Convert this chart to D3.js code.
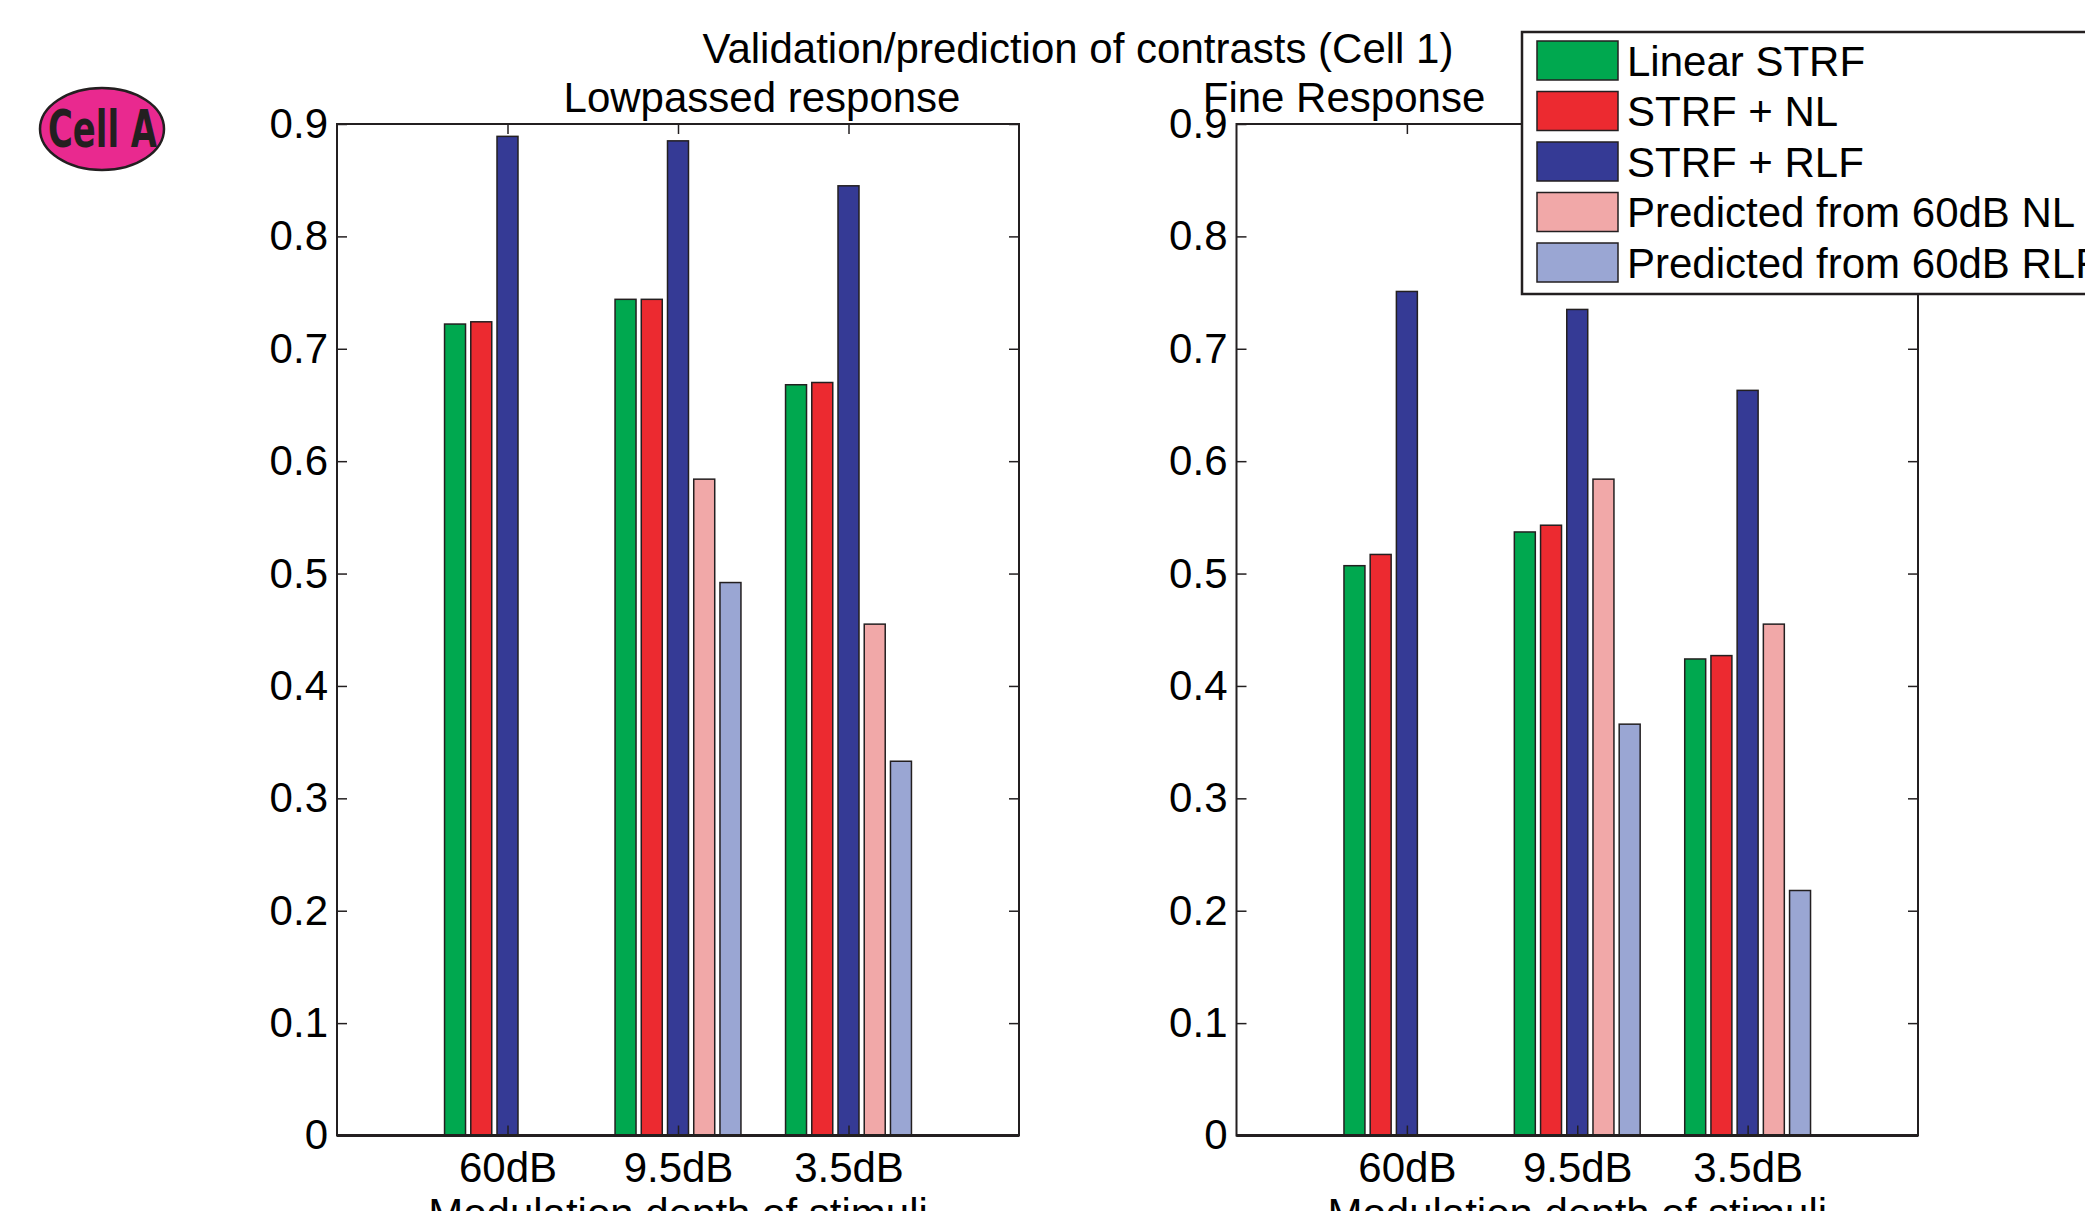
<!DOCTYPE html>
<html lang="en">
<head>
<meta charset="UTF-8">
<title>Validation/prediction of contrasts (Cell 1)</title>
<script src="https://d3js.org/d3.v7.min.js"></script>
<style>
    body { margin: 0; background: #fff; }
    svg text { font-family: "Liberation Sans", Arial, Helvetica, sans-serif; fill: #000; }
    .tick line { stroke: #231f20; stroke-width: 1.5; }
    .tick text { font-size: 42px; }
    .ttl { font-size: 42px; }
    .leg { font-size: 42px; }
</style>
</head>
<body>
<svg id="chart" width="2085" height="1211"></svg>
<script>
    // categories (x groups) and legend names
    const groups = ["60dB", "9.5dB", "3.5dB"];
    const seriesNames = ["Linear STRF", "STRF + NL", "STRF + RLF", "Predicted from 60dB NL", "Predicted from 60dB RLF"];
    const yTicks = [0, 0.1, 0.2, 0.3, 0.4, 0.5, 0.6, 0.7, 0.8, 0.9];

    // Lowpassed response
    const lowLinear  = [0.722, 0.744, 0.668];
    const lowNL      = [0.724, 0.744, 0.670];
    const lowRLF     = [0.889, 0.885, 0.845];
    const lowPredNL  = [null, 0.584, 0.455];
    const lowPredRLF = [null, 0.492, 0.333];

    // Fine response
    const fineLinear  = [0.507, 0.537, 0.424];
    const fineNL      = [0.517, 0.543, 0.427];
    const fineRLF     = [0.751, 0.735, 0.663];
    const finePredNL  = [null, 0.584, 0.455];
    const finePredRLF = [null, 0.366, 0.218];

    const colors = ["#00a84f", "#ec2a30", "#353a95", "#f1a8a8", "#9aa6d3"];
    const ink = "#231f20";

    const svg = d3.select("#chart");

    // matlab style grouped bars: 5 bars in a group
    const groupW = 5 / 6.5;
    const step = groupW / 5;
    const barW = step * 0.8;

    function drawPanel(left, right, top, bottom, series) {
        const x = d3.scaleLinear().domain([0, 4]).range([left, right]);
        const y = d3.scaleLinear().domain([0, 0.9]).range([bottom, top]);
        const g = svg.append("g");

        series.forEach((vals, j) => {
            g.selectAll(null)
                .data(vals.map((v, i) => ({ v: v, i: i })).filter(d => d.v != null))
                .enter().append("rect")
                .attr("x", d => x(d.i + 1 + (j - 2) * step - barW / 2))
                .attr("width", x(barW) - x(0))
                .attr("y", d => y(d.v))
                .attr("height", d => y(0) - y(d.v))
                .attr("fill", colors[j])
                .attr("stroke", ink)
                .attr("stroke-width", 1.5);
        });

        g.append("g")
            .attr("transform", `translate(${left},0)`)
            .call(d3.axisLeft(y).tickValues(yTicks).tickFormat(d3.format("")).tickSize(-10).tickPadding(9))
            .call(a => a.select(".domain").remove());
        g.append("g")
            .attr("transform", `translate(${right},0)`)
            .call(d3.axisRight(y).tickValues(yTicks).tickFormat("").tickSize(-10))
            .call(a => a.select(".domain").remove());
        g.append("g")
            .attr("transform", `translate(0,${top})`)
            .call(d3.axisTop(x).tickValues([1, 2, 3]).tickFormat("").tickSize(-10))
            .call(a => a.select(".domain").remove());
        g.append("g")
            .attr("transform", `translate(0,${bottom})`)
            .call(d3.axisBottom(x).tickValues([1, 2, 3]).tickFormat(d => groups[d - 1]).tickSize(-10).tickPadding(17))
            .call(a => a.select(".domain").remove());

        g.selectAll(".tick text").attr("fill", "#000");

        g.append("rect")
            .attr("x", left).attr("y", top)
            .attr("width", right - left).attr("height", bottom - top)
            .attr("fill", "none").attr("stroke", ink).attr("stroke-width", 2);
        g.append("line")
            .attr("x1", left).attr("x2", right)
            .attr("y1", bottom).attr("y2", bottom)
            .attr("stroke", ink).attr("stroke-width", 3);

        g.append("text")
            .attr("class", "ttl")
            .attr("x", (left + right) / 2)
            .attr("y", bottom + 92)
            .attr("text-anchor", "middle")
            .text("Modulation depth of stimuli");
    }

    drawPanel(337, 1019, 124, 1135.5, [lowLinear, lowNL, lowRLF, lowPredNL, lowPredRLF]);
    drawPanel(1236.5, 1918, 124, 1135.5, [fineLinear, fineNL, fineRLF, finePredNL, finePredRLF]);

    // titles
    svg.append("text").attr("class", "ttl").attr("x", 1078).attr("y", 63)
        .attr("text-anchor", "middle").text("Validation/prediction of contrasts (Cell 1)");
    svg.append("text").attr("class", "ttl").attr("x", 762).attr("y", 112)
        .attr("text-anchor", "middle").text("Lowpassed response");
    svg.append("text").attr("class", "ttl").attr("x", 1344).attr("y", 112)
        .attr("text-anchor", "middle").text("Fine Response");

    // Cell A badge
    svg.append("ellipse")
        .attr("cx", 102).attr("cy", 129).attr("rx", 62).attr("ry", 41)
        .attr("fill", "#e9298f").attr("stroke", ink).attr("stroke-width", 2.5);
    svg.append("text")
        .attr("x", 48).attr("y", 147)
        .attr("textLength", 109).attr("lengthAdjust", "spacingAndGlyphs")
        .style("font-family", "'DejaVu Sans Condensed', 'DejaVu Sans', sans-serif")
        .style("font-weight", "bold").style("font-size", "52px")
        .style("fill", ink)
        .text("Cell A");

    // legend
    const legend = svg.append("g");
    legend.append("rect")
        .attr("x", 1522).attr("y", 32).attr("width", 700).attr("height", 262)
        .attr("fill", "#fff").attr("stroke", ink).attr("stroke-width", 2.5);
    seriesNames.forEach((name, j) => {
        const cy = 60.5 + j * 50.5;
        legend.append("rect")
            .attr("x", 1537).attr("y", cy - 19.5).attr("width", 81).attr("height", 39)
            .attr("fill", colors[j]).attr("stroke", ink).attr("stroke-width", 1.5);
        legend.append("text").attr("class", "leg")
            .attr("x", 1627).attr("y", cy + 15)
            .text(name);
    });
</script>
</body>
</html>
